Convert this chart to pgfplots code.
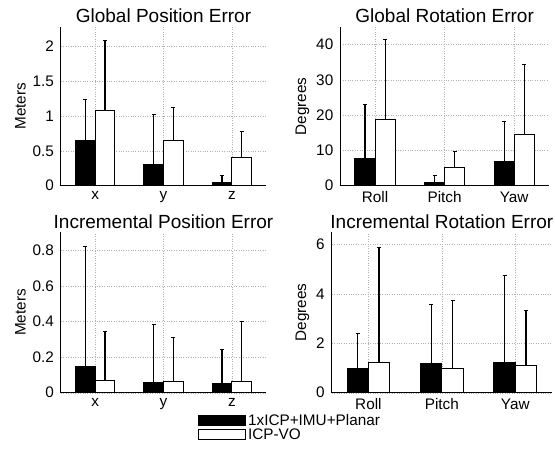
\documentclass[border=0pt]{standalone}
\usepackage{fontspec}
\setmainfont{Liberation Sans}
\usepackage{pgfplots}
\pgfplotsset{compat=1.18}

\pgfplotsset{
  panel/.style={
    scale only axis,
    axis x line*=bottom, axis y line*=left,
    axis line style={-, line width=1pt},
    xmin=0.5, xmax=3.5, ymin=0,
    xtick={1,2,3},
    major tick length=0pt,
    xmajorgrids, ymajorgrids,
    grid style={dotted, gray!60, line width=0.4pt},
    ybar=0pt, bar width=0.29,
    tick label style={font=\fontsize{15.3}{17}\selectfont},
    xticklabel style={yshift=-2.5pt},
    yticklabel style={xshift=-3.5pt},
    label style={font=\fontsize{15.3}{17}\selectfont},
    title style={font=\fontsize{19}{22}\selectfont, yshift=-5.5pt},
    /pgf/number format/assume math mode=true,
    error bars/y dir=plus, error bars/y explicit,
    error bars/error mark=|,
    error bars/error mark options={line width=1pt, mark size=2pt},
    error bars/error bar style={line width=1.2pt},
  },
  blk/.style={fill=black, draw=black, line width=1pt, bar shift=-0.145},
  wht/.style={fill=white, draw=black, line width=1pt, bar shift=0.145},
}

\begin{document}
\begin{tikzpicture}
\path[use as bounding box] (0pt,0pt) rectangle (555pt,448pt);

% global position
\begin{axis}[panel, at={(61pt,262.3pt)}, anchor=south west,
    width=205pt, height=158.7pt, ymax=2.27,
    ytick={0,0.5,1,1.5,2},
    xticklabels={x,y,z},
    title={Global Position Error}, ylabel={Meters}]
\addplot[blk] coordinates {(1,0.65) +- (0,0.59) (2,0.30) +- (0,0.72) (3,0.04) +- (0,0.10)};
\addplot[wht] coordinates {(1,1.08) +- (0,0.99) (2,0.64) +- (0,0.48) (3,0.40) +- (0,0.38)};
\end{axis}

% global rotation
\begin{axis}[panel, at={(340.3pt,262.3pt)}, anchor=south west,
    width=208.7pt, height=158.7pt, ymax=45,
    ytick={0,10,20,30,40},
    xticklabels={Roll,Pitch,Yaw},
    title={Global Rotation Error}, ylabel={Degrees}]
\addplot[blk] coordinates {(1,7.6) +- (0,15.5) (2,1.0) +- (0,2.0) (3,6.9) +- (0,11.3)};
\addplot[wht] coordinates {(1,18.9) +- (0,22.6) (2,5.1) +- (0,4.6) (3,14.6) +- (0,19.7)};
\end{axis}

% incremental position
\begin{axis}[panel, at={(61pt,55.3pt)}, anchor=south west,
    width=205pt, height=160.4pt, ymax=0.9,
    ytick={0,0.2,0.4,0.6,0.8},
    xticklabels={x,y,z},
    title={Incremental Position Error}, ylabel={Meters},
    legend style={at={(axis description cs:0.668,-0.12)}, anchor=north west,
      draw=none, fill=none, font=\fontsize{15.3}{17}\selectfont,
      row sep=-2pt, inner sep=0pt},
    legend cell align=left,
    legend image code/.code={\draw[#1, line width=1pt] (0pt,-5pt) rectangle (47pt,5pt);}]
\addplot[blk] coordinates {(1,0.145) +- (0,0.677) (2,0.055) +- (0,0.325) (3,0.05) +- (0,0.19)};
\addplot[wht] coordinates {(1,0.068) +- (0,0.278) (2,0.062) +- (0,0.248) (3,0.062) +- (0,0.336)};
\legend{1xICP+IMU+Planar, ICP-VO}
\end{axis}

% incremental rotation
\begin{axis}[panel, at={(331.7pt,55.3pt)}, anchor=south west,
    width=220.3pt, height=160.4pt, ymax=6.5,
    ytick={0,2,4,6},
    xticklabels={Roll,Pitch,Yaw},
    title={Incremental Rotation Error}, ylabel={Degrees}]
\addplot[blk] coordinates {(1,0.99) +- (0,1.41) (2,1.20) +- (0,2.38) (3,1.22) +- (0,3.52)};
\addplot[wht] coordinates {(1,1.24) +- (0,4.66) (2,0.97) +- (0,2.75) (3,1.12) +- (0,2.20)};
\end{axis}
\end{tikzpicture}
\end{document}
